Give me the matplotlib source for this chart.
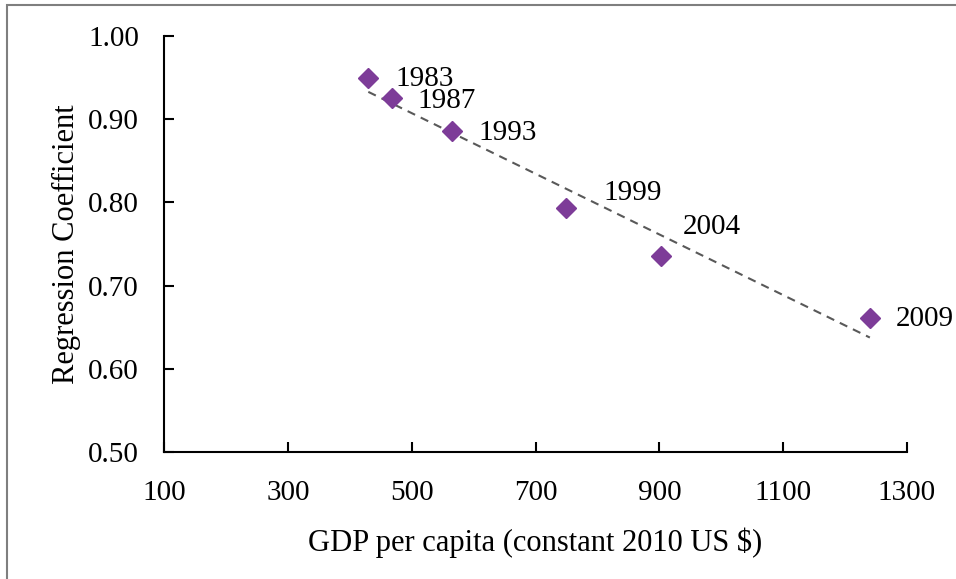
import numpy as np
import matplotlib.pyplot as plt
from matplotlib.patches import Rectangle

plt.rcParams['font.family'] = ['Liberation Serif', 'DejaVu Serif']

# GDP per capita vs regression coefficient, by survey year
years = ['1983', '1987', '1993', '1999', '2004', '2009']
gdp = [430, 468, 565, 749, 903, 1240]
coef = [0.950, 0.925, 0.886, 0.793, 0.735, 0.661]

# label offsets (pixels) for each year
label_dx = [27, 26, 27, 38, 22, 26]
label_dy = [-1, -3, -2, 15, 29, -1]

fig = plt.figure(figsize=(9.56, 5.79), dpi=100)
ax = fig.add_axes([164 / 956, 1 - 452 / 579, (907 - 164) / 956, (452 - 36) / 579])

# linear trend line
k, b = np.polyfit(gdp, coef, 1)
xs = np.array([min(gdp), max(gdp)])
ax.plot(xs, k * xs + b, color='#595959', lw=1.5, ls=(0, (4, 3)), zorder=2)

ax.plot(gdp, coef, ls='none', marker='D', ms=10, color='#7D3C98', zorder=3)

for yr, x, y, dx, dy in zip(years, gdp, coef, label_dx, label_dy):
    ax.annotate(yr, (x, y), xytext=(dx, dy), textcoords='offset pixels',
                fontsize=21, va='center', ha='left')

ax.set_xlim(100, 1300)
ax.set_ylim(0.5, 1.0)
ax.set_xticks(np.arange(100, 1301, 200))
ax.set_yticks(np.arange(0.5, 1.001, 0.1))
ax.set_yticklabels(['%.2f' % v for v in np.arange(0.5, 1.001, 0.1)])

for s in ['top', 'right']:
    ax.spines[s].set_visible(False)
for s in ['left', 'bottom']:
    ax.spines[s].set_linewidth(1.5)
    ax.spines[s].set_color('black')

ax.tick_params(axis='both', direction='in', length=7, width=1.5, labelsize=21)
ax.tick_params(axis='x', pad=20)
ax.tick_params(axis='y', pad=18)

ax.set_xlabel('GDP per capita (constant 2010 US $)', fontsize=22, labelpad=16)
ax.set_ylabel('Regression Coefficient', fontsize=22, labelpad=5)

# outer frame
fig.patches.append(Rectangle((7 / 956, -0.1), 1.2, 1.1 - 5 / 579,
                             transform=fig.transFigure, fill=False,
                             edgecolor='#7f7f7f', lw=1.5))

fig.savefig('out.png', dpi=100)
